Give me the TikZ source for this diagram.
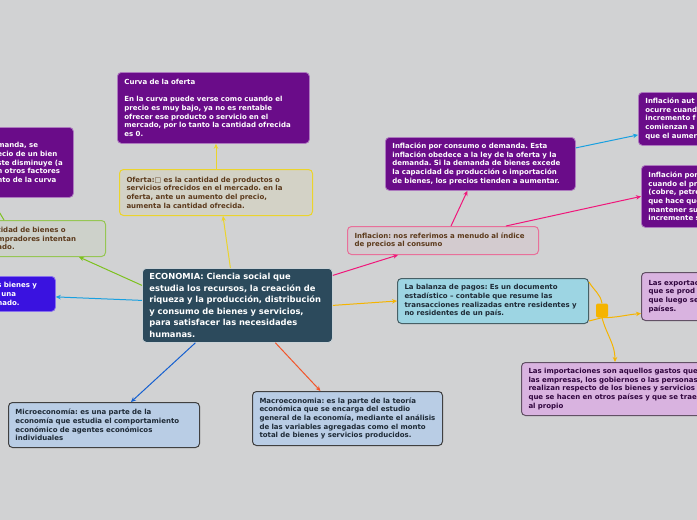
\documentclass[tikz,border=0pt]{standalone}
\usepackage{fontspec}
\setmainfont{DejaVu Sans}
\usepackage{xcolor}
\definecolor{canvas}{HTML}{D1D2D3}
\definecolor{plum}{HTML}{6A0C89}
\definecolor{slate}{HTML}{2C4A5C}
\definecolor{brownink}{HTML}{5C3A1C}
\definecolor{darkink}{HTML}{1E2A36}
\definecolor{sunny}{HTML}{EBD42C}
\definecolor{lime}{HTML}{7DC11E}
\definecolor{rosy}{HTML}{E8709A}
\definecolor{indigo1}{HTML}{3A12E0}
\definecolor{teal1}{HTML}{9DD5E3}
\definecolor{sky1}{HTML}{B9CDE5}
\definecolor{lilac}{HTML}{D9B3E0}
\definecolor{cyan1}{HTML}{19A0E0}
\definecolor{blue1}{HTML}{1560D0}
\definecolor{red1}{HTML}{F2552A}
\definecolor{pink1}{HTML}{F0167A}
\definecolor{amber}{HTML}{F5B400}
\usepackage{tikz}
\usetikzlibrary{arrows.meta,positioning}
\newcommand\cardfont{\fontsize{7}{8.7}\selectfont\bfseries\frenchspacing}
\newcommand\ecofont{\fontsize{8.35}{11.5}\selectfont\bfseries\frenchspacing}
\tikzset{
  card/.style      = {rectangle, rounded corners=4pt, anchor=north west,
                      align=left, inner xsep=7pt, inner ysep=2pt,
                      line width=1pt, font=\cardfont},
  plumcard/.style  = {card, fill=plum, draw=plum!55!white, line width=0.8pt,
                      text=white},
  ofertacard/.style= {card, fill=canvas!92!sunny, draw=sunny, text=brownink},
  greencard/.style = {card, fill=canvas!95!lime, draw=lime!70!canvas, text=brownink},
  bluecard/.style  = {card, fill=indigo1, draw=indigo1!60!white, line width=0.8pt,
                      text=white},
  infcard/.style   = {card, fill=canvas!93!rosy, draw=rosy, text=brownink},
  tealcard/.style  = {card, fill=teal1, draw=teal1!45!black, text=darkink},
  skycard/.style   = {card, fill=sky1, draw=black!75, text=darkink},
  lilaccard/.style = {card, fill=lilac, draw=lilac!45!black, text=plum!45!black},
  knob/.style      = {rectangle, rounded corners=2pt, fill=amber,
                      minimum width=12pt, minimum height=14pt, inner sep=0pt},
  link/.style      = {-{Stealth[length=5pt,width=4.5pt]}, line width=1pt},
  wire/.style      = {line width=1pt}
}

\begin{document}
\begin{tikzpicture}[x=1pt,y=-1pt]
  \useasboundingbox (0,0) rectangle (697,520);
  \clip (0,0) rectangle (697,520);
  \fill[canvas] (0,0) rectangle (697,520);

  % central topic
  \node[card, fill=slate, draw=white!75!slate, line width=0.8pt, text=white,
        font=\ecofont, text width=176pt, minimum height=74pt] (eco) at (142,268)
       {ECONOMIA: Ciencia social que\\estudia los recursos, la creación de\\riqueza y la producción, distribución\\y consumo de bienes y servicios,\\para satisfacer las necesidades\\humanas.};

  % upper branch
  \node[ofertacard, text width=179pt, minimum height=46pt] (ofe) at (119,169)
       {Oferta:□ es la cantidad de productos o\\servicios ofrecidos en el mercado. en la\\oferta, ante un aumento del precio,\\aumenta la cantidad ofrecida.};
  \node[plumcard, text width=178pt, minimum height=71pt] (cur) at (117,72)
       {Curva de la oferta\\[8.7pt]En la curva puede verse como cuando el\\precio es muy bajo, ya no es rentable\\ofrecer ese producto o servicio en el\\mercado, por lo tanto la cantidad ofrecida\\es 0.};

  % left branch (cut by the edge)
  \node[greencard, text width=101pt, minimum height=36pt] (grn) at (-10,220)
       {tidad de bienes o\\mpradores intentan\\ado.};
  \node[plumcard, text width=69pt, minimum height=70pt] (dem) at (-10,127)
       {manda, se\\ecio de un bien\\ste disminuye (a\\n otros factores\\nto de la curva};
  \node[bluecard, text width=51pt, minimum height=35pt] (blu) at (-10,276)
       {s bienes y\\\hspace*{4pt}una\\nado.};
  \coordinate (demfoot) at (-8,200);

  % lower branch
  \node[skycard, text width=177pt, minimum height=45pt] (mic) at (8,402)
       {Microeconomía: es una parte de la\\economía que estudia el comportamiento\\económico de agentes económicos\\individuales};
  \node[skycard, text width=176pt, minimum height=54pt] (mac) at (252,391)
       {Macroeconomia: es la parte de la teoría\\económica que se encarga del estudio\\general de la economía, mediante el análisis\\de las variables agregadas como el monto\\total de bienes y servicios producidos.};

  % inflation branch
  \node[infcard, text width=177pt, minimum height=28pt] (inf) at (347,226)
       {Inflacion: nos referimos a menudo al índice\\de precios al consumo};
  \node[plumcard, text width=176pt, minimum height=53pt] (con) at (385,137)
       {Inflación por consumo o demanda. Esta\\inflación obedece a la ley de la oferta y la\\demanda. Si la demanda de bienes excede\\la capacidad de producción o importación\\de bienes, los precios tienden a aumentar.};
  \node[plumcard, text width=108pt, minimum height=53pt] (aut) at (638,92)
       {Inflación aut\\ocurre cuand\\incremento f\\comienzan a\\que el aumer};
  \node[plumcard, text width=105pt, minimum height=62pt] (por) at (641,165)
       {Inflación por\\cuando el pr\\(cobre, petró\\que hace que\\mantener su\\incremente s};

  % balance of payments branch
  \node[tealcard, text width=177pt, minimum height=45pt] (bal) at (397,278)
       {La balanza de pagos: Es un documento\\estadístico – contable que resume las\\transacciones realizadas entre residentes y\\no residentes de un país.};
  \node[lilaccard, text width=105pt, minimum height=48pt] (exp) at (641,272)
       {Las exportac\\que se prod\\que luego se\\países.};
  \node[lilaccard, text width=225pt, minimum height=53pt] (imp) at (521,362)
       {Las importaciones son aquellos gastos que\\las empresas, los gobiernos o las personas\\realizan respecto de los bienes y servicios\\que se hacen en otros países y que se trae\\al propio};
  \node[knob] (kn) at (602,310.5) {};

  % connectors
  \draw[link, sunny] ([xshift=-7pt]eco.north) -- ([xshift=7pt]ofe.south);
  \draw[link, sunny] (ofe.north) -- (ofe.north |- cur.south);
  \draw[link, lime] ([yshift=20pt]eco.west) -- ([xshift=-27pt]grn.south east);
  \draw[link, lime] ([xshift=14pt]grn.north west) -- (demfoot);
  \draw[link, cyan1] ([yshift=5pt]eco.west) -- ([yshift=-3pt]blu.east);
  \draw[link, blue1] ([xshift=-42pt]eco.south) -- ([xshift=27pt]mic.north);
  \draw[link, red1] ([xshift=38pt]eco.south) -- ([xshift=-27pt]mac.north);
  \draw[link, pink1] ([yshift=30pt]eco.east) -- ([xshift=-45pt]inf.south);
  \draw[link, pink1] ([xshift=8pt]inf.north) -- ([xshift=-13pt]con.south);
  \draw[link, pink1] ([xshift=63pt]inf.north) -- (por.west);
  \draw[link, cyan1] ([yshift=16pt]con.east) -- ([yshift=-16pt]aut.west);
  \draw[link, amber] (eco.east) -- (bal.west);
  \draw[wire, amber] ([yshift=-4pt]bal.north east) to[out=-60, in=100] (kn.north);
  \draw[wire, amber] ([yshift=3pt]bal.south east) -- (kn.south);
  \draw[link, amber] (kn.south) to[out=0, in=185] ([yshift=-17pt]exp.west);
  \draw[link, amber] (kn.south) to[out=-75, in=90] ([xshift=94pt]imp.north west);
\end{tikzpicture}
\end{document}
